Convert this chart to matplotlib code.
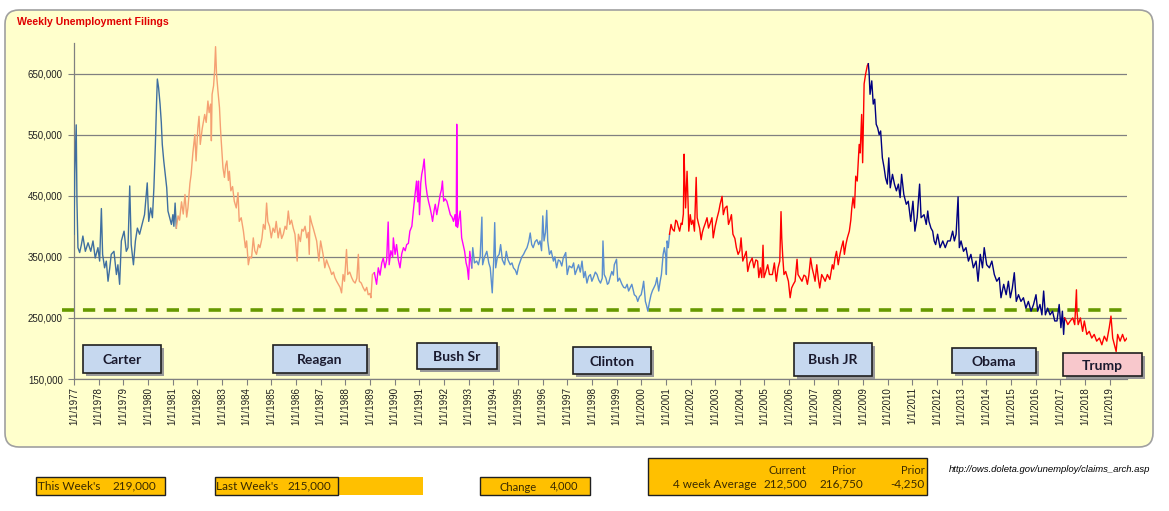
import matplotlib
matplotlib.use('Agg')
import matplotlib.pyplot as plt
import numpy as np
from matplotlib.patches import Rectangle, FancyBboxPatch
from matplotlib.transforms import IdentityTransform
from matplotlib.ticker import FuncFormatter

# weekly initial claims (thousands), one series per president
carter_years = [1977.0, 1977.03, 1977.09, 1977.12, 1977.16, 1977.23, 1977.3, 1977.36, 1977.46, 1977.57,
                1977.68, 1977.77, 1977.86, 1977.97, 1978.04, 1978.11, 1978.16, 1978.24, 1978.31, 1978.38,
                1978.45, 1978.51, 1978.62, 1978.72, 1978.78, 1978.85, 1978.92, 1979.03, 1979.12, 1979.19,
                1979.26, 1979.32, 1979.41, 1979.49, 1979.57, 1979.66, 1979.76, 1979.86, 1979.97, 1980.03,
                1980.11, 1980.18, 1980.24, 1980.30, 1980.35, 1980.38, 1980.43, 1980.49, 1980.54, 1980.58,
                1980.64, 1980.70, 1980.76, 1980.81, 1980.88, 1980.95, 1981.01, 1981.05, 1981.10, 1981.15]
carter_claims = [387, 485, 566, 441, 365, 357, 370, 384, 359, 373,
                 359, 376, 348, 365, 343, 429, 354, 332, 343, 310,
                 332, 354, 359, 321, 337, 305, 376, 392, 359, 365,
                 466, 370, 337, 376, 397, 387, 403, 419, 471, 408,
                 430, 414, 463, 534, 605, 641, 627, 600, 570, 534,
                 507, 485, 463, 425, 414, 403, 419, 400, 438, 397]

reagan_years = [1981.15, 1981.22, 1981.28, 1981.36, 1981.43, 1981.50, 1981.57, 1981.62, 1981.70, 1981.75,
                1981.82, 1981.90, 1981.95, 1982.02, 1982.07, 1982.12, 1982.20, 1982.30, 1982.36, 1982.43,
                1982.48, 1982.54, 1982.57, 1982.60, 1982.66, 1982.70, 1982.74, 1982.78, 1982.84, 1982.90,
                1982.94, 1982.97, 1983.04, 1983.10, 1983.15, 1983.20, 1983.26, 1983.30, 1983.36, 1983.43,
                1983.50, 1983.58, 1983.65, 1983.70, 1983.78, 1983.87, 1983.95, 1984.00, 1984.07, 1984.13,
                1984.20, 1984.27, 1984.33, 1984.40, 1984.48, 1984.54, 1984.62, 1984.68, 1984.75, 1984.81,
                1984.86, 1984.93, 1985.00, 1985.07, 1985.14, 1985.20, 1985.28, 1985.35, 1985.42, 1985.49,
                1985.56, 1985.62, 1985.69, 1985.75, 1985.82, 1985.89, 1985.96, 1986.05, 1986.10, 1986.18,
                1986.24, 1986.30, 1986.37, 1986.44, 1986.50, 1986.54, 1986.57, 1986.64, 1986.70, 1986.78,
                1986.84, 1986.93, 1987.00, 1987.05, 1987.10, 1987.17, 1987.24, 1987.31, 1987.38, 1987.45,
                1987.52, 1987.58, 1987.65, 1987.72, 1987.79, 1987.85, 1987.91, 1987.97, 1988.05, 1988.10,
                1988.18, 1988.26, 1988.33, 1988.40, 1988.47, 1988.53, 1988.57, 1988.65, 1988.72, 1988.80,
                1988.87, 1988.93, 1989.00, 1989.04, 1989.10, 1989.18]
reagan_claims = [397, 417, 410, 440, 420, 452, 415, 430, 470, 485,
                 520, 550, 507, 560, 580, 534, 560, 583, 570, 605,
                 586, 600, 540, 616, 630, 654, 694, 649, 620, 594,
                 560, 540, 496, 480, 500, 507, 475, 490, 458, 465,
                 441, 430, 455, 408, 414, 392, 365, 376, 337, 350,
                 348, 381, 360, 354, 370, 365, 380, 403, 395, 438,
                 408, 400, 381, 397, 390, 408, 381, 397, 380, 387,
                 400, 395, 425, 403, 410, 397, 387, 343, 387, 375,
                 395, 392, 400, 381, 390, 354, 417, 405, 397, 385,
                 376, 343, 376, 365, 354, 332, 345, 337, 330, 321,
                 325, 316, 310, 305, 300, 291, 321, 310, 362, 321,
                 325, 316, 310, 307, 315, 354, 310, 307, 300, 294,
                 300, 288, 290, 283, 321, 324]

bush_sr_years = [1989.18, 1989.27, 1989.34, 1989.41, 1989.48, 1989.54, 1989.61, 1989.68, 1989.74, 1989.78,
                 1989.85, 1989.92, 1989.95, 1990.02, 1990.08, 1990.15, 1990.22, 1990.29, 1990.36, 1990.43,
                 1990.49, 1990.56, 1990.62, 1990.70, 1990.76, 1990.83, 1990.89, 1990.94, 1990.97, 1991.01,
                 1991.06, 1991.10, 1991.15, 1991.20, 1991.26, 1991.32, 1991.38, 1991.44, 1991.49, 1991.54,
                 1991.60, 1991.65, 1991.71, 1991.78, 1991.85, 1991.90, 1991.94, 1991.99, 1992.05, 1992.12,
                 1992.19, 1992.26, 1992.33, 1992.39, 1992.45, 1992.50, 1992.52, 1992.55, 1992.60, 1992.66,
                 1992.72, 1992.78, 1992.84, 1992.90, 1992.95, 1993.00, 1993.05, 1993.13]
bush_sr_claims = [324, 305, 332, 320, 340, 348, 332, 345, 407, 337,
                  360, 350, 381, 354, 370, 345, 332, 355, 365, 360,
                  370, 372, 392, 400, 425, 452, 474, 440, 474, 419,
                  470, 485, 495, 510, 470, 452, 440, 430, 420, 408,
                  425, 436, 419, 435, 452, 460, 474, 441, 445, 441,
                  430, 419, 415, 408, 419, 400, 567, 398, 410, 425,
                  381, 370, 359, 340, 332, 313, 359, 332]

clinton_years = [1993.13, 1993.17, 1993.24, 1993.33, 1993.40, 1993.47, 1993.54, 1993.57, 1993.65, 1993.74,
                 1993.82, 1993.88, 1993.96, 1994.02, 1994.06, 1994.10, 1994.17, 1994.24, 1994.30, 1994.37,
                 1994.46, 1994.53, 1994.60, 1994.69, 1994.76, 1994.82, 1994.90, 1994.96, 1995.03, 1995.10,
                 1995.16, 1995.23, 1995.30, 1995.37, 1995.44, 1995.50, 1995.56, 1995.62, 1995.70, 1995.77,
                 1995.84, 1995.90, 1995.96, 1996.01, 1996.06, 1996.12, 1996.17, 1996.21, 1996.28, 1996.35,
                 1996.44, 1996.50, 1996.57, 1996.64, 1996.71, 1996.78, 1996.84, 1996.94, 1997.00, 1997.08,
                 1997.19, 1997.26, 1997.32, 1997.40, 1997.46, 1997.53, 1997.60, 1997.67, 1997.73, 1997.80,
                 1997.87, 1997.94, 1998.00, 1998.08, 1998.14, 1998.21, 1998.28, 1998.35, 1998.42, 1998.45,
                 1998.50, 1998.57, 1998.63, 1998.68, 1998.75, 1998.81, 1998.87, 1998.91, 1999.00, 1999.05,
                 1999.12, 1999.22, 1999.29, 1999.36, 1999.43, 1999.49, 1999.56, 1999.62, 1999.68, 1999.72,
                 1999.80, 1999.86, 1999.93, 2000.00, 2000.06, 2000.10, 2000.17, 2000.22, 2000.27, 2000.33,
                 2000.40, 2000.46, 2000.51, 2000.58, 2000.64, 2000.71, 2000.77, 2000.82, 2000.89, 2000.94,
                 2001.00, 2001.02, 2001.05, 2001.10, 2001.15]
clinton_claims = [332, 365, 340, 343, 337, 350, 415, 337, 350, 359,
                  340, 332, 291, 345, 406, 332, 350, 354, 370, 345,
                  337, 359, 345, 337, 340, 332, 328, 321, 335, 343,
                  350, 354, 360, 365, 375, 389, 370, 365, 375, 378,
                  370, 376, 360, 417, 376, 390, 426, 376, 354, 360,
                  343, 350, 332, 345, 343, 335, 348, 357, 321, 335,
                  332, 340, 321, 330, 337, 325, 343, 316, 326, 307,
                  318, 321, 310, 318, 325, 321, 312, 307, 315, 376,
                  321, 315, 305, 307, 318, 326, 320, 337, 346, 310,
                  315, 305, 300, 299, 305, 294, 300, 305, 295, 288,
                  285, 277, 285, 288, 300, 310, 277, 270, 261, 275,
                  288, 295, 299, 305, 316, 294, 310, 321, 354, 365,
                  350, 321, 376, 365, 387]

bush_jr_years = [2001.15, 2001.21, 2001.27, 2001.34, 2001.40, 2001.45, 2001.50, 2001.56, 2001.62, 2001.66,
                 2001.71, 2001.74, 2001.77, 2001.80, 2001.86, 2001.90, 2001.93, 2001.99, 2002.04, 2002.10,
                 2002.16, 2002.23, 2002.27, 2002.32, 2002.37, 2002.43, 2002.48, 2002.53, 2002.60, 2002.67,
                 2002.73, 2002.80, 2002.87, 2002.92, 2003.00, 2003.08, 2003.15, 2003.20, 2003.28, 2003.33,
                 2003.40, 2003.48, 2003.54, 2003.60, 2003.66, 2003.72, 2003.80, 2003.86, 2003.93, 2004.00,
                 2004.05, 2004.12, 2004.18, 2004.26, 2004.32, 2004.40, 2004.50, 2004.57, 2004.65, 2004.72,
                 2004.77, 2004.83, 2004.89, 2004.94, 2004.98, 2005.05, 2005.13, 2005.20, 2005.32, 2005.40,
                 2005.48, 2005.55, 2005.62, 2005.67, 2005.70, 2005.74, 2005.79, 2005.86, 2005.97, 2006.04,
                 2006.10, 2006.17, 2006.24, 2006.32, 2006.36, 2006.45, 2006.52, 2006.60, 2006.67, 2006.74,
                 2006.80, 2006.87, 2006.93, 2007.00, 2007.05, 2007.12, 2007.18, 2007.24, 2007.32, 2007.40,
                 2007.46, 2007.55, 2007.65, 2007.75, 2007.80, 2007.86, 2007.92, 2007.99, 2008.06, 2008.12,
                 2008.19, 2008.24, 2008.30, 2008.36, 2008.44, 2008.50, 2008.54, 2008.59, 2008.65, 2008.70,
                 2008.76, 2008.84, 2008.88, 2008.94, 2008.98, 2009.04, 2009.10, 2009.17, 2009.21]
bush_jr_claims = [387, 403, 395, 392, 410, 408, 400, 392, 405, 403,
                  420, 518, 470, 430, 490, 440, 392, 419, 403, 410,
                  392, 480, 414, 405, 397, 378, 390, 397, 405, 414,
                  397, 405, 414, 381, 400, 414, 425, 436, 449, 419,
                  430, 433, 403, 410, 419, 387, 380, 365, 354, 360,
                  381, 343, 350, 359, 326, 340, 348, 332, 345, 343,
                  316, 332, 316, 369, 316, 325, 337, 321, 321, 340,
                  310, 332, 343, 424, 381, 350, 321, 326, 310, 283,
                  299, 305, 310, 346, 321, 315, 310, 320, 318, 305,
                  320, 348, 332, 320, 310, 337, 315, 299, 321, 315,
                  310, 321, 313, 337, 330, 348, 359, 337, 354, 365,
                  376, 354, 370, 381, 392, 410, 430, 447, 430, 482,
                  474, 534, 520, 583, 504, 633, 649, 663, 666]

obama_years = [2009.21, 2009.24, 2009.28, 2009.35, 2009.41, 2009.47, 2009.53, 2009.59, 2009.65, 2009.71,
               2009.78, 2009.85, 2009.91, 2009.98, 2010.04, 2010.10, 2010.19, 2010.27, 2010.35, 2010.43,
               2010.50, 2010.56, 2010.65, 2010.75, 2010.83, 2010.93, 2011.02, 2011.10, 2011.19, 2011.29,
               2011.35, 2011.47, 2011.56, 2011.62, 2011.67, 2011.75, 2011.82, 2011.88, 2011.94, 2012.02,
               2012.12, 2012.23, 2012.33, 2012.43, 2012.53, 2012.63, 2012.70, 2012.77, 2012.85, 2012.90,
               2012.97, 2013.07, 2013.17, 2013.27, 2013.37, 2013.47, 2013.58, 2013.66, 2013.75, 2013.84,
               2013.91, 2014.01, 2014.12, 2014.22, 2014.32, 2014.42, 2014.52, 2014.59, 2014.70, 2014.80,
               2014.89, 2014.97, 2015.05, 2015.13, 2015.21, 2015.30, 2015.40, 2015.50, 2015.60, 2015.70,
               2015.81, 2015.91, 2016.01, 2016.08, 2016.17, 2016.25, 2016.32, 2016.39, 2016.48, 2016.58,
               2016.68, 2016.77, 2016.86, 2016.95, 2017.02, 2017.08, 2017.13, 2017.17]
obama_claims = [666, 652, 616, 638, 600, 608, 567, 561, 550, 556,
                512, 496, 479, 469, 512, 463, 485, 469, 458, 469,
                447, 485, 452, 436, 441, 408, 441, 392, 414, 469,
                414, 419, 403, 425, 408, 397, 392, 376, 370, 387,
                365, 376, 365, 376, 376, 392, 376, 387, 448, 365,
                376, 359, 365, 343, 354, 332, 343, 310, 354, 332,
                365, 337, 332, 343, 321, 310, 316, 283, 305, 288,
                310, 283, 299, 324, 277, 288, 277, 283, 266, 277,
                261, 272, 288, 261, 272, 255, 294, 255, 266, 255,
                261, 245, 245, 272, 234, 261, 223, 250]

trump_years = [2017.17, 2017.24, 2017.30, 2017.40, 2017.50, 2017.58, 2017.65, 2017.67, 2017.72, 2017.81,
               2017.90, 2017.97, 2018.07, 2018.17, 2018.27, 2018.37, 2018.47, 2018.58, 2018.68, 2018.78,
               2018.88, 2018.98, 2019.05, 2019.12, 2019.19, 2019.26, 2019.32, 2019.42, 2019.52, 2019.61,
               2019.70]
trump_claims = [250, 245, 239, 245, 250, 239, 296, 261, 239, 250,
                228, 245, 223, 228, 217, 223, 212, 217, 206, 220,
                212, 234, 253, 217, 206, 195, 223, 212, 223, 212,
                217]

presidents = ['Carter', 'Reagan', 'Bush Sr', 'Clinton', 'Bush JR', 'Obama', 'Trump']
series_years = [carter_years, reagan_years, bush_sr_years, clinton_years, bush_jr_years, obama_years, trump_years]
series_claims = [carter_claims, reagan_claims, bush_sr_claims, clinton_claims, bush_jr_claims, obama_claims, trump_claims]
line_colors = ['#3F6FA0', '#F5A072', '#FF00FF', '#5A8ECF', '#FF0000', '#000080', '#FF0000']

reference_level = 263000  # dashed green line
tick_years = list(range(1977, 2020))

this_week = 219000
last_week = 215000
avg_current = 212500
avg_prior = 216750
source_url = 'http://ows.doleta.gov/unemploy/claims_arch.asp'

W, H = 1169, 511
fig = plt.figure(figsize=(W / 100, H / 100), dpi=100)
fig.patch.set_facecolor('white')


def px(x, y):
    # pixel coords (top-left origin) -> display coords
    return x, H - y


# chart area background (rounded, pale yellow)
bg = FancyBboxPatch(px(5, 447), 1148, 437, boxstyle='round,pad=0,rounding_size=14',
                    facecolor='#FFFFCC', edgecolor='#A0A0A0', linewidth=1.2,
                    transform=IdentityTransform(), zorder=0)
fig.add_artist(bg)

ax = fig.add_axes([74 / W, 1 - 379 / H, (1127 - 74) / W, (379 - 43) / H])
ax.set_facecolor('none')

for yrs, vals, col in zip(series_years, series_claims, line_colors):
    ax.plot(yrs, np.array(vals) * 1000, color=col, linewidth=1.0, zorder=3)

ax.plot([1976.5, 2019.72], [reference_level, reference_level], color='#669900', linewidth=2.6,
        dashes=(3.4, 2.4), clip_on=False, zorder=2)

ax.set_xlim(1977, 2019.7)
ax.set_ylim(150000, 700000)
ax.set_yticks(range(150000, 700000, 100000))
ax.yaxis.set_major_formatter(FuncFormatter(lambda v, p: '{:,.0f}'.format(v)))
ax.set_xticks(tick_years)
ax.set_xticklabels(['1/1/%d' % y for y in tick_years], rotation=90)
ax.grid(axis='y', color='#808080', linewidth=0.9)
ax.set_axisbelow(True)
for s in ['top', 'right']:
    ax.spines[s].set_visible(False)
for s in ['left', 'bottom']:
    ax.spines[s].set_color('#808080')
    ax.spines[s].set_linewidth(0.9)
ax.tick_params(axis='both', colors='#808080', labelcolor='#202020', labelsize=7, length=4, width=0.8)
ax.tick_params(axis='x', pad=2)
ax.tick_params(axis='y', pad=4)
for lab in ax.get_xticklabels() + ax.get_yticklabels():
    lab.set_fontfamily('Liberation Sans')

fig.text(17 / W, 1 - 22 / H, 'Weekly Unemployment Filings', color='#E00000', fontsize=7.6,
         fontweight='bold', family='Liberation Sans', va='center', ha='left')

# president name boxes: (x0, y0, x1, y1) in pixels
box_layout = [(83, 345, 161, 373), (273, 345, 367, 373), (417, 343, 497, 369), (573, 347, 651, 374),
              (794, 343, 872, 376), (952, 348, 1036, 373), (1063, 353, 1142, 376)]
box_faces = ['#C6D8EF'] * 6 + ['#F8C8CC']
for name, (x0, y0, x1, y1), fc in zip(presidents, box_layout, box_faces):
    shadow = Rectangle(px(x0 + 3, y1 + 3), x1 - x0, y1 - y0, facecolor='#9A9A9A', edgecolor='none',
                       transform=IdentityTransform(), zorder=4)
    box = Rectangle(px(x0, y1), x1 - x0, y1 - y0, facecolor=fc, edgecolor='#202020', linewidth=1.2,
                    transform=IdentityTransform(), zorder=5)
    fig.add_artist(shadow)
    fig.add_artist(box)
    cx, cy = px((x0 + x1) / 2, (y0 + y1) / 2 + 1)
    fig.text(cx / W, cy / H, name, ha='center', va='center', fontsize=10, fontweight='bold',
             family='Lato', color='#1A1A2E', zorder=6)

# summary boxes along the bottom
gold = '#FFC000'


def gold_box(x0, y0, x1, y1, edge=True):
    r = Rectangle(px(x0, y1), x1 - x0, y1 - y0, facecolor=gold,
                  edgecolor='#202020' if edge else 'none', linewidth=1.0,
                  transform=IdentityTransform(), zorder=2)
    fig.add_artist(r)


def label(x, y, s, ha='left', size=8):
    fig.text(x / W, 1 - y / H, s, ha=ha, va='center', fontsize=size, family='Lato',
             color='#3A2A00')


gold_box(36, 477, 165, 495)
label(38, 486, "This Week's", size=8.5)
label(156, 486, '{:,}'.format(this_week), ha='right', size=8.5)

gold_box(338, 477, 423, 495, edge=False)
gold_box(215, 477, 338, 495)
label(216, 486, "Last Week's", size=8.5)
label(331, 486, '{:,}'.format(last_week), ha='right', size=8.5)

gold_box(480, 477, 590, 495)
label(500, 487, 'Change')
label(578, 486, '{:,}'.format(this_week - last_week), ha='right')

gold_box(648, 458, 927, 495)
label(806, 470, 'Current', ha='right')
label(856, 470, 'Prior', ha='right')
label(925, 470, 'Prior', ha='right')
label(757, 484, '4 week Average', ha='right', size=8.5)
label(807, 484, '{:,}'.format(avg_current), ha='right', size=8.5)
label(863, 484, '{:,}'.format(avg_prior), ha='right', size=8.5)
label(925, 484, '{:,}'.format(avg_current - avg_prior), ha='right', size=8.5)

fig.text(949 / W, 1 - 469 / H, source_url, ha='left', va='center', fontsize=6.8,
         family='Liberation Sans', style='italic', color='black')

fig.savefig('out.png', dpi=100)
